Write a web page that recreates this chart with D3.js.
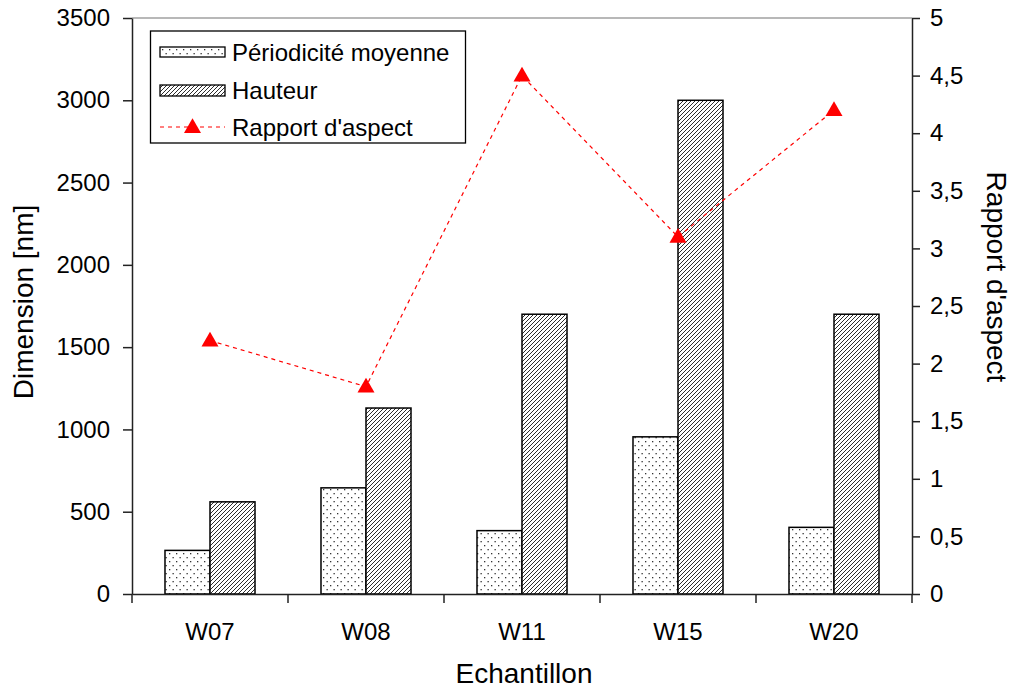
<!DOCTYPE html>
<html><head><meta charset="utf-8">
<script src="https://cdn.jsdelivr.net/npm/d3@7"></script>
<style>html,body{margin:0;padding:0;background:#fff}svg{display:block}text{font-family:"Liberation Sans",Arial,sans-serif;fill:#000}</style>
</head><body><div id="chart"></div>
<script>
const categories = ["W07","W08","W11","W15","W20"];
const periodicite = [265, 645, 385, 955, 405];
const hauteur = [560, 1130, 1700, 3000, 1700];
const rapport = [2.2, 1.8, 4.5, 3.1, 4.2];
const leftTicks = [0,500,1000,1500,2000,2500,3000,3500];
const rightTicks = [0,0.5,1,1.5,2,2.5,3,3.5,4,4.5,5];
const seriesNames = ["Périodicité moyenne","Hauteur","Rapport d'aspect"];

const W = 1013, H = 688;
const m = {left:132, right:912, top:18, bottom:594};
const svg = d3.select("#chart").append("svg").attr("width",W).attr("height",H);

const defs = svg.append("defs");
const dots = defs.append("pattern").attr("id","dots").attr("patternUnits","userSpaceOnUse").attr("width",7).attr("height",8);
dots.append("rect").attr("width",7).attr("height",8).attr("fill","#fff");
dots.append("rect").attr("x",1).attr("y",1).attr("width",1.3).attr("height",1.3).attr("fill","#333");
dots.append("rect").attr("x",4.5).attr("y",5).attr("width",1.3).attr("height",1.3).attr("fill","#333");
const hatch = defs.append("pattern").attr("id","hatch").attr("patternUnits","userSpaceOnUse").attr("width",4).attr("height",4);
hatch.append("rect").attr("width",4).attr("height",4).attr("fill","#fff");
hatch.append("path").attr("d","M-1,1 L1,-1 M0,4 L4,0 M3,5 L5,3").attr("stroke","#222").attr("stroke-width",0.95);

const x = d3.scaleBand().domain(categories).range([m.left,m.right]).paddingInner(0.423).paddingOuter(0.2115);
const xs = d3.scaleBand().domain([0,1]).range([0,x.bandwidth()]);
const yL = d3.scaleLinear().domain([0,3500]).range([m.bottom,m.top]);
const yR = d3.scaleLinear().domain([0,5]).range([m.bottom,m.top]);

// top border
svg.append("line").attr("x1",m.left).attr("x2",m.right).attr("y1",m.top).attr("y2",m.top).attr("stroke","#a0a0a0").attr("stroke-width",1.5);

// bars
const g = svg.append("g");
[[periodicite,"url(#dots)"],[hauteur,"url(#hatch)"]].forEach(([vals,fill],si)=>{
  g.selectAll(null).data(vals).enter().append("rect")
    .attr("x",(d,i)=>x(categories[i])+xs(si))
    .attr("width",xs.bandwidth())
    .attr("y",d=>yL(d))
    .attr("height",d=>yL(0)-yL(d))
    .attr("fill",fill).attr("stroke","#000").attr("stroke-width",1.5);
});

// axes
const fmtR = d=>String(d).replace(".",",");
const axL = svg.append("g").attr("transform",`translate(${m.left},0)`).call(d3.axisLeft(yL).tickValues(leftTicks).tickFormat(d3.format("d")).tickSize(9).tickPadding(13).tickSizeOuter(0));
const axR = svg.append("g").attr("transform",`translate(${m.right},0)`).call(d3.axisRight(yR).tickValues(rightTicks).tickFormat(fmtR).tickSize(8).tickPadding(10).tickSizeOuter(0));
const xTickScale = d3.scaleLinear().domain([0,categories.length]).range([m.left,m.right]);
const axB = svg.append("g").attr("transform",`translate(0,${m.bottom})`).call(d3.axisBottom(x).tickSize(0).tickPadding(29).tickSizeOuter(0));
svg.append("g").selectAll(null).data(d3.range(categories.length+1)).enter().append("line")
  .attr("x1",d=>xTickScale(d)).attr("x2",d=>xTickScale(d)).attr("y1",m.bottom).attr("y2",m.bottom+9)
  .attr("stroke","#222").attr("stroke-width",1.5);
[axL,axR,axB].forEach(a=>{
  a.selectAll("path.domain").attr("stroke","#222").attr("stroke-width",1.5);
  a.selectAll(".tick line").attr("stroke","#222").attr("stroke-width",1.5);
  a.selectAll("text").attr("font-size",24).attr("font-family","Liberation Sans, Arial, sans-serif").attr("fill","#222");
});

// line series
const line = d3.line().x((d,i)=>x(categories[i])+x.bandwidth()/2).y(d=>yR(d));
svg.append("path").datum(rapport).attr("d",line).attr("fill","none").attr("stroke","#ff0000").attr("stroke-width",1.2).attr("stroke-dasharray","4,4");
const tri = d3.symbol().type(d3.symbolTriangle).size(125);
svg.selectAll(null).data(rapport).enter().append("path")
  .attr("d",tri).attr("transform",(d,i)=>`translate(${x(categories[i])+x.bandwidth()/2},${yR(d)+1})`).attr("fill","#ff0000");

// titles
svg.append("text").attr("x",(m.left+m.right)/2+2).attr("y",683).attr("text-anchor","middle").attr("font-size",28).text("Echantillon");
svg.append("text").attr("transform","translate(33,302) rotate(-90)").attr("text-anchor","middle").attr("font-size",28).text("Dimension [nm]");
svg.append("text").attr("transform","translate(987,277) rotate(90)").attr("text-anchor","middle").attr("font-size",28).text("Rapport d'aspect");

// legend
const lg = svg.append("g");
lg.append("rect").attr("x",150.5).attr("y",31).attr("width",315).attr("height",112).attr("fill","#fff").attr("stroke","#000").attr("stroke-width",1.3);
const rowsY = [52,90,127];
lg.append("rect").attr("x",160).attr("y",47).attr("width",65).attr("height",10).attr("fill","url(#dots)").attr("stroke","#000").attr("stroke-width",1.3);
lg.append("rect").attr("x",160).attr("y",85).attr("width",65).attr("height",11).attr("fill","url(#hatch)").attr("stroke","#000").attr("stroke-width",1.3);
lg.append("line").attr("x1",160).attr("x2",225).attr("y1",127).attr("y2",127).attr("stroke","#ff0000").attr("stroke-width",1.2).attr("stroke-dasharray","4,4");
lg.append("path").attr("d",tri).attr("transform","translate(192.5,128)").attr("fill","#ff0000");
lg.selectAll(null).data(seriesNames).enter().append("text")
  .attr("x",232).attr("y",(d,i)=>rowsY[i]+8.5).attr("font-size",24).attr("fill","#222").text(d=>d);
</script></body></html>
